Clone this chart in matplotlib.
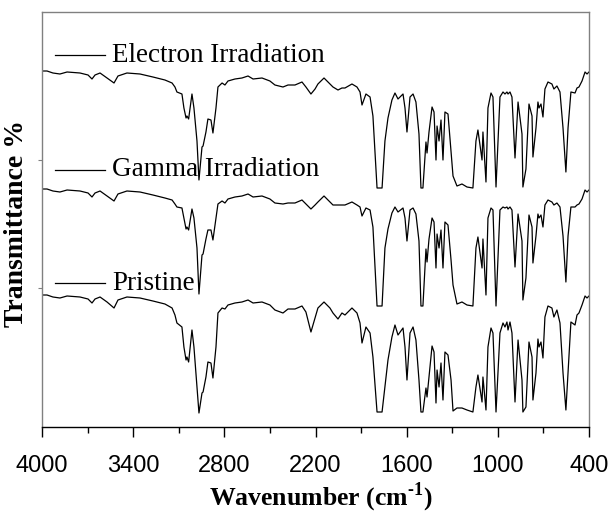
import matplotlib
matplotlib.use("Agg")
import matplotlib.pyplot as plt
import numpy as np

plt.rcParams['mathtext.fontset'] = 'custom'
plt.rcParams['mathtext.rm'] = 'Liberation Serif:bold'
plt.rcParams['mathtext.bf'] = 'Liberation Serif:bold'

# FTIR spectra (shared wavenumber grid)
wavenumber = [4000, 3967, 3928, 3882, 3835, 3750, 3697, 3671, 3651, 3618,
              3572, 3526, 3500, 3441, 3355, 3270, 3191, 3144, 3125, 3112,
              3079, 3066, 3052, 3046, 3035, 3013, 3000, 2980, 2967, 2947,
              2940, 2921, 2908, 2888, 2875, 2855, 2842, 2815, 2796, 2776,
              2730, 2684, 2644, 2611, 2552, 2500, 2467, 2414, 2381, 2335,
              2289, 2263, 2230, 2203, 2184, 2144, 2105, 2085, 2052, 2026,
              2006, 1960, 1927, 1907, 1894, 1868, 1841, 1822, 1795, 1762,
              1743, 1723, 1697, 1677, 1657, 1624, 1611, 1598, 1578, 1558,
              1539, 1519, 1506, 1493, 1473, 1466, 1453, 1433, 1420, 1407,
              1400, 1387, 1374, 1361, 1348, 1328, 1308, 1295, 1269, 1236,
              1203, 1164, 1144, 1131, 1104, 1098, 1078, 1065, 1045, 1032,
              1012, 986, 966, 953, 940, 933, 920, 907, 887, 867,
              841, 835, 815, 795, 775, 769, 749, 736, 729, 716,
              703, 690, 670, 644, 631, 611, 591, 571, 552, 538,
              519, 492, 479, 466, 446, 426, 413, 400]

pristine = [132, 132, 130, 129, 131, 130, 128, 124, 128, 130,
            125, 119, 127, 130, 129, 126, 123, 119, 112, 104,
            100, 80, 67, 70, 65, 97, 80, 40, 14, 34,
            35, 50, 65, 64, 49, 80, 114, 119, 118, 122,
            124, 125, 127, 124, 125, 122, 117, 114, 118, 118,
            121, 115, 95, 109, 119, 125, 119, 114, 108, 114,
            112, 119, 114, 104, 84, 100, 94, 70, 15, 15,
            40, 67, 90, 102, 92, 99, 80, 47, 94, 100,
            87, 47, 15, 15, 39, 30, 50, 81, 75, 24,
            57, 40, 64, 27, 75, 72, 47, 16, 19, 19,
            17, 15, 40, 52, 25, 50, 17, 80, 99, 94,
            15, 94, 104, 100, 105, 97, 105, 94, 25, 87,
            47, 15, 20, 85, 70, 27, 54, 88, 80, 85,
            69, 110, 121, 119, 110, 117, 104, 54, 17, 54,
            105, 102, 112, 114, 122, 131, 129, 131]

gamma = [132, 132, 130, 129, 131, 130, 128, 124, 128, 130,
         125, 120, 127, 130, 129, 126, 123, 121, 117, 114,
         113, 103, 92, 94, 91, 112, 103, 73, 27, 66,
         67, 82, 91, 91, 81, 103, 117, 120, 118, 122,
         124, 125, 127, 124, 125, 122, 118, 117, 118, 118,
         121, 117, 112, 116, 119, 125, 119, 116, 116, 116,
         116, 119, 116, 114, 105, 113, 111, 94, 15, 15,
         73, 92, 108, 114, 109, 113, 103, 80, 111, 113,
         107, 80, 15, 15, 72, 59, 82, 103, 99, 53,
         87, 73, 91, 53, 99, 96, 61, 36, 17, 19,
         16, 15, 73, 84, 53, 82, 26, 103, 113, 111,
         15, 111, 114, 113, 114, 112, 114, 111, 54, 107,
         80, 21, 43, 106, 94, 58, 85, 107, 103, 106,
         94, 116, 121, 119, 116, 118, 114, 85, 39, 85,
         114, 114, 116, 117, 122, 131, 129, 131]

electron = [132, 132, 130, 129, 131, 130, 128, 124, 128, 130,
            125, 120, 127, 130, 129, 126, 123, 120, 116, 111,
            109, 95, 85, 87, 84, 109, 95, 62, 23, 56,
            57, 71, 84, 83, 70, 95, 116, 120, 118, 122,
            124, 125, 127, 124, 125, 122, 118, 116, 118, 118,
            121, 116, 109, 114, 119, 125, 119, 116, 113, 115,
            115, 119, 116, 111, 98, 109, 106, 87, 15, 15,
            62, 85, 103, 110, 104, 109, 95, 71, 106, 109,
            101, 69, 15, 15, 61, 50, 71, 96, 91, 43,
            77, 62, 83, 43, 91, 89, 51, 27, 17, 19,
            16, 15, 62, 73, 43, 71, 21, 95, 110, 106,
            16, 106, 111, 109, 111, 109, 111, 106, 45, 101,
            69, 16, 34, 99, 87, 46, 75, 101, 95, 99,
            86, 114, 121, 119, 114, 117, 111, 75, 31, 75,
            111, 110, 115, 116, 122, 131, 129, 131]

labels = ['Pristine', 'Gamma Irradiation', 'Electron Irradiation']
offsets = [0, 106, 224]
label_y = [144, 257, 372]

fig = plt.figure(figsize=(6.11, 5.13), dpi=100)
ax = fig.add_axes([42 / 611, 86 / 513, 547 / 611, 415 / 513])

wn = np.array(wavenumber)
for spec, off, name, ly in zip([pristine, gamma, electron], offsets, labels, label_y):
    ax.plot(wn, np.array(spec) + off, color='black', lw=0.9,
            solid_joinstyle='round')
    # legend-style label: short line + text
    ax.plot([0.024, 0.115], [ly, ly], transform=ax.get_yaxis_transform(),
            color='black', lw=0.9)
    ax.text(0.128, ly, name, transform=ax.get_yaxis_transform(),
            fontsize=19.5, family='Liberation Serif', va='center', ha='left')

ax.set_xlim(4000, 400)
ax.set_ylim(0, 415)

ax.set_xticks(np.arange(4000, 399, -600))
ax.set_xticks(np.arange(3700, 400, -600), minor=True)
ax.set_yticks([139, 267])
ax.set_yticklabels([])
ax.tick_params(axis='x', which='major', direction='out', length=7, width=1,
               labelsize=17, pad=13)
ax.tick_params(axis='x', which='minor', direction='out', length=4, width=1)
ax.tick_params(axis='y', direction='out', length=3, width=0.8, colors='#808080')
for lab in ax.get_xticklabels():
    lab.set_family('Liberation Sans')

for side in ['left', 'top', 'right']:
    ax.spines[side].set_color('#808080')
    ax.spines[side].set_linewidth(1)
ax.spines['bottom'].set_color('black')
ax.spines['bottom'].set_linewidth(1)

ax.set_xlabel(r'Wavenumber (cm$^{\text{-1}}$)', fontsize=18.5,
              family='Liberation Serif', fontweight='bold')
ax.xaxis.set_label_coords(0.51, -0.128)
ax.set_ylabel('Transmittance %', fontsize=20, family='Liberation Serif',
              fontweight='bold')
ax.yaxis.set_label_coords(-0.024, 0.49)

fig.savefig('out.png', dpi=100)
